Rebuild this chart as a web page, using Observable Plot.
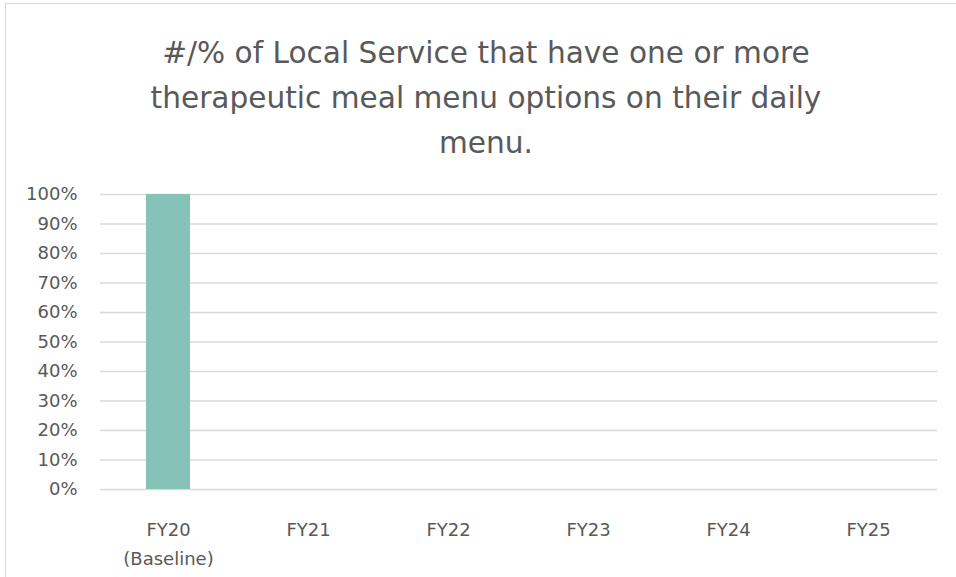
<!DOCTYPE html>
<html>
<head>
<meta charset="utf-8">
<script src="https://cdn.jsdelivr.net/npm/d3@7"></script>
<script src="https://cdn.jsdelivr.net/npm/@observablehq/plot@0.6"></script>
<style>
  html, body { margin: 0; padding: 0; background: #fff; overflow: hidden; }
  #wrap { position: relative; width: 956px; height: 577px; }
  #frame { position: absolute; left: 5px; top: 3px; right: 0; bottom: 0;
           border-left: 1.5px solid #d9d9d9; border-top: 1.5px solid #d9d9d9; }
  #title { position: absolute; left: 16px; width: 940px; top: 31px;
           text-align: center; font-family: "DejaVu Sans", sans-serif;
           font-size: 29.6px; line-height: 45px; color: #595959; }
  #chart { position: absolute; left: 0; top: 170px; }
</style>
</head>
<body>
<div id="wrap">
  <div id="frame"></div>
  <div id="title">#/% of Local Service that have one or more<br>therapeutic meal menu options on their daily<br>menu.</div>
  <div id="chart"></div>
</div>
<script>
const categories = ["FY20", "FY21", "FY22", "FY23", "FY24", "FY25"];
const xTickLabels = ["FY20\n(Baseline)", "FY21", "FY22", "FY23", "FY24", "FY25"];
const values = [1.0, null, null, null, null, null];
const yTicks = [0, 0.1, 0.2, 0.3, 0.4, 0.5, 0.6, 0.7, 0.8, 0.9, 1.0];

const data = categories.map((c, i) => ({category: c, value: values[i]}));
const labelOf = new Map(categories.map((c, i) => [c, xTickLabels[i]]));

const chart = Plot.plot({
  width: 956,
  height: 407,
  marginTop: 24,
  marginBottom: 88,
  marginLeft: 100,
  marginRight: 19,
  style: {fontFamily: "DejaVu Sans, sans-serif", fontSize: "18px", color: "#595959", background: "transparent"},
  x: {type: "band", domain: categories, paddingInner: 0.685, paddingOuter: 0.33},
  y: {domain: [0, 1]},
  marks: [
    Plot.ruleY(yTicks, {stroke: "#d9d9d9", strokeWidth: 1.5}),
    Plot.barY(data.filter(d => d.value != null), {x: "category", y: "value", fill: "#86C2B8"}),
    Plot.axisY({ticks: yTicks, tickSize: 0, tickPadding: 23, tickFormat: d => Math.round(d * 100) + "%", label: null, fontSize: 18}),
    Plot.axisX({tickSize: 0, tickPadding: 25, tickFormat: d => labelOf.get(d), label: null, fontSize: 18, lineHeight: 1.65})
  ]
});
document.getElementById("chart").appendChild(chart);
</script>
</body>
</html>
